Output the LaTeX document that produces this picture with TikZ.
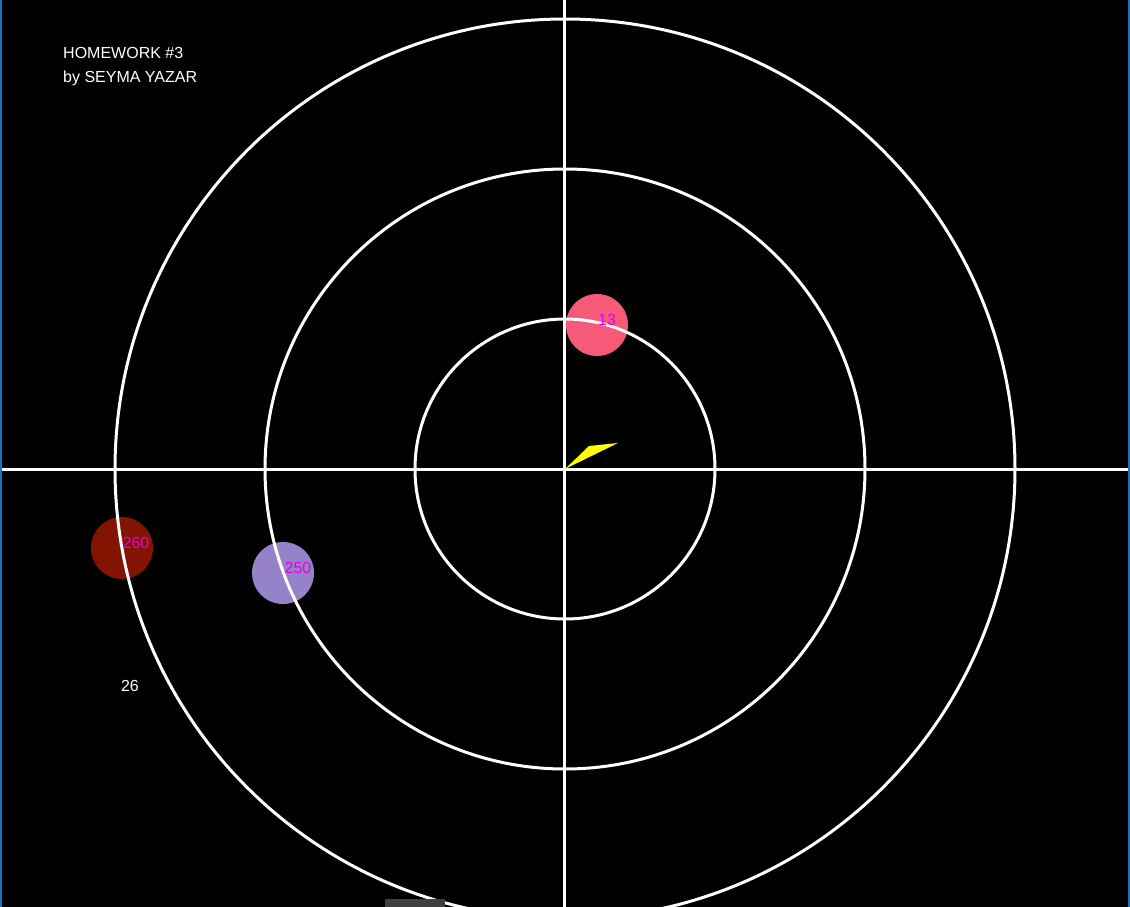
\documentclass[tikz,border=0pt]{standalone}
\usepackage{fontspec}
\setmainfont{Liberation Sans}
\definecolor{ringwhite}{RGB}{255,255,255}
\definecolor{pinkball}{RGB}{245,90,120}
\definecolor{redball}{RGB}{130,20,0}
\definecolor{purpleball}{RGB}{150,130,200}
\definecolor{lblmag}{RGB}{230,0,230}
\definecolor{wedge}{RGB}{255,255,0}
\definecolor{winblue}{RGB}{30,110,190}
\begin{document}
\begin{tikzpicture}[x=1pt,y=-1pt,
  ring/.style={draw=ringwhite,line width=3pt},
  axis/.style={draw=ringwhite,line width=3pt},
  ball/.style={circle,inner sep=0pt,minimum size=62pt},
  lbl/.style={text=lblmag,font=\fontsize{16}{17}\selectfont,inner sep=0pt},
  wtxt/.style={text=white,font=\fontsize{16}{17}\selectfont,inner sep=0pt,anchor=west}]
\fill[black] (0,0) rectangle (1130,907);
\useasboundingbox (0,0) rectangle (1130,907);
% balls (under the rings)
\node[ball,fill=pinkball] (b13) at (597,325) {};
\node[ball,fill=redball] (b260) at (122,548) {};
\node[ball,fill=purpleball] (b250) at (283,573) {};
\coordinate (c) at (565,469);
\draw[ring] (c) circle[radius=150];
\draw[ring] (c) circle[radius=300];
\draw[ring] (c) circle[radius=450];
\coordinate (hl) at (0,469);
\coordinate (hr) at (1130,469);
\coordinate (vt) at (564,0);
\coordinate (vb) at (564,907);
\draw[axis] (hl) -- (hr);
\draw[axis] (vt) -- (vb);
% labels
\node[lbl] (l13) at (607,320) {13};
\node[lbl] (l260) at (136,543) {260};
\node[lbl] (l250) at (298,568) {250};
% yellow pointer
\fill[wedge] (565,469) -- (589,446) -- (618,443) -- cycle;
% texts
\node[wtxt] (t1) at (63,53) {HOMEWORK \#3};
\node[wtxt] (t2) at (63,78) {by SEYMA YAZAR};
\node[text=white,font=\fontsize{16}{17}\selectfont,inner sep=0pt] (t3) at (130,686) {26};
% window artefacts
\fill[black!75!white] (385,899) rectangle (445,907);
\fill[winblue] (0,0) rectangle (1.5,907);
\fill[winblue] (1128,0) rectangle (1130,907);
\end{tikzpicture}
\end{document}
